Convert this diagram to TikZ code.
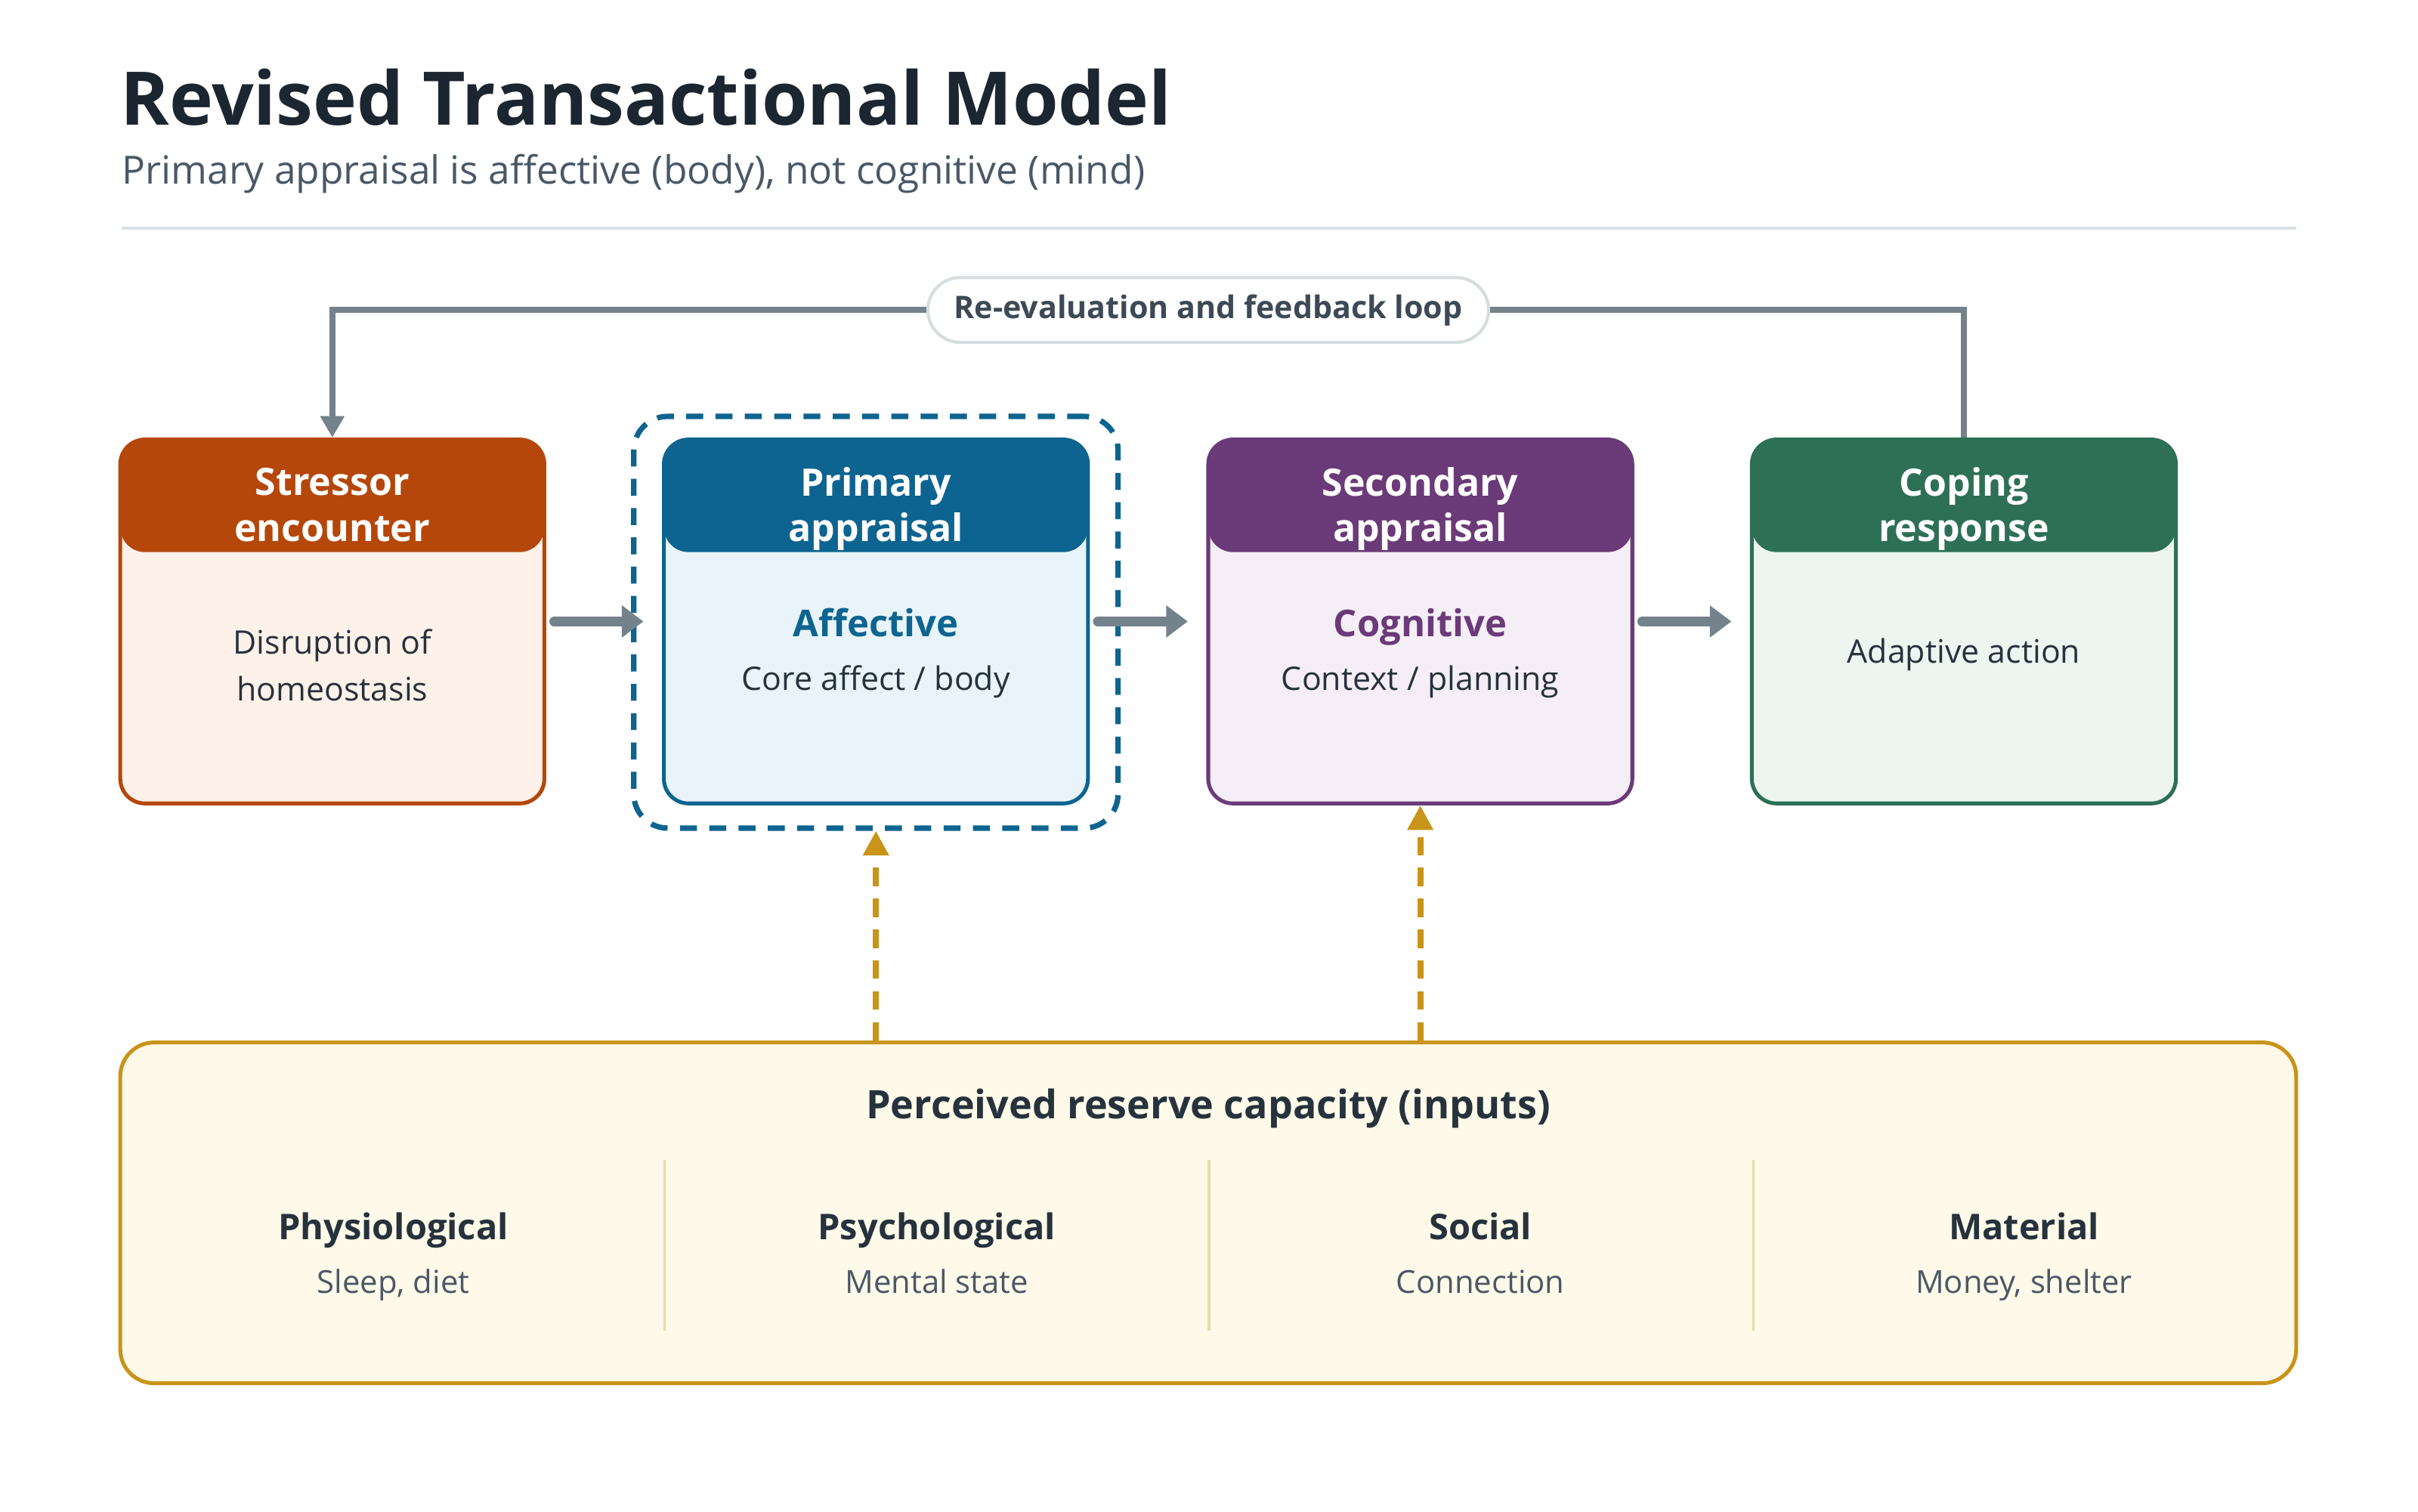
\documentclass[tikz,border=0pt]{standalone}
\usepackage{fontspec}
\setmainfont{Open Sans}
\usetikzlibrary{arrows.meta}

\definecolor{ink}{HTML}{1C2630}
\definecolor{subink}{HTML}{4A5866}
\definecolor{bodyink}{HTML}{26323C}
\definecolor{rulegray}{HTML}{D9E0E4}
\definecolor{loopgray}{HTML}{74828B}
\definecolor{pillgray}{HTML}{D5DDE1}
\definecolor{pillink}{HTML}{3D4A55}
\definecolor{stressD}{HTML}{B5470B}
\definecolor{stressL}{HTML}{FEF1E9}
\definecolor{primD}{HTML}{0E6490}
\definecolor{primL}{HTML}{E8F4FA}
\definecolor{secD}{HTML}{6B3A78}
\definecolor{secL}{HTML}{F5EEF6}
\definecolor{copeD}{HTML}{2E7055}
\definecolor{copeL}{HTML}{ECF5EF}
\definecolor{gold}{HTML}{C8941A}
\definecolor{goldL}{HTML}{FEF9E9}
\definecolor{goldrule}{HTML}{EAD9A8}

\tikzset{
  stage/.style={rectangle,rounded corners=16pt,draw=#1,line width=2.5pt,
    minimum width=275pt,minimum height=236pt,
    path picture={\fill[#1] (path picture bounding box.north west)
      rectangle ([yshift=-73pt]path picture bounding box.north east);}},
  hd/.style={align=center,text=white,text depth=.25em,font=\bfseries\fontsize{24.5}{29.5}\selectfont},
  txt/.style={align=center,text=bodyink,text depth=.25em,font=\fontsize{21}{30}\selectfont},
  one/.style={text height=.72em,text depth=0pt},
  key/.style={one,font=\bfseries\fontsize{24}{28}\selectfont},
  flow/.style={draw=loopgray,line width=6pt,line cap=round,
    -{Triangle[length=14pt,width=20pt]}},
  fback/.style={draw=loopgray,line width=4pt,-{Triangle[length=14pt,width=15pt]}},
  feed/.style={draw=gold,line width=4pt,dash pattern=on 12pt off 8pt,
    -{Triangle[length=16pt,width=16pt]}},
  pill/.style={rectangle,rounded corners=21pt,draw=pillgray,line width=2pt,fill=white,
    minimum height=42pt,inner xsep=17pt,text=pillink,font=\bfseries\fontsize{20.2}{24}\selectfont},
  col/.style={one,text=bodyink,font=\bfseries\fontsize{23}{26}\selectfont},
  colsub/.style={one,text=subink,font=\fontsize{20.5}{24}\selectfont}
}

\begin{document}
\begin{tikzpicture}[x=1pt,y=-1pt]
    \useasboundingbox[fill=white] (0,0) rectangle (1568,980);
    % heading
    \node [anchor=base west,inner sep=0,text=ink,font=\bfseries\fontsize{48}{56}\selectfont] (T) at (78,81) {Revised Transactional Model};
    \node [anchor=base west,inner sep=0,text=subink,font=\fontsize{25.2}{30}\selectfont] (Ts) at (79,119.5) {Primary appraisal is affective (body), not cognitive (mind)};
    \draw [rulegray,line width=2pt] (79,148) -- (1489,148);

    % stages
    \node [draw=primD,line width=3.5pt,dash pattern=on 11pt off 8pt,rounded corners=22pt,
           minimum width=314pt,minimum height=267pt] (F) at (568,403.5) {};
    \node [stage=stressD,fill=stressL] (S) at (215.5,403) {};
    \node [stage=primD,fill=primL]     (P) at (568,403) {};
    \node [stage=secD,fill=secL]       (Q) at (921,403) {};
    \node [stage=copeD,fill=copeL]     (C) at (1273.5,403) {};

    \node [hd] (Sh) at (215.5,328.5) {Stressor\\encounter};
    \node [hd] (Ph) at (568,328.5) {Primary\\appraisal};
    \node [hd] (Qh) at (921,328.5) {Secondary\\appraisal};
    \node [hd] (Ch) at (1273.5,328.5) {Coping\\response};

    \node [txt] (Sb) at (215.5,432.5) {Disruption of\\homeostasis};
    \node [key,text=primD] (Pk) at (568,409) {Affective};
    \node [txt,one] (Pb) at (568,444) {Core affect / body};
    \node [key,text=secD] (Qk) at (921,409) {Cognitive};
    \node [txt,one] (Qb) at (921,444) {Context / planning};
    \node [txt,one] (Cb) at (1273.5,426.5) {Adaptive action};

    \draw [flow] ([xshift=5pt]S.east) -- ([xshift=-12pt]P.west);
    \draw [flow] ([xshift=5pt]P.east) -- ([xshift=-12pt]Q.west);
    \draw [flow] ([xshift=5pt]Q.east) -- ([xshift=-12pt]C.west);

    % feedback loop
    \node [pill] (L) at (783.5,201) {Re-evaluation and feedback loop};
    \draw [fback,-] (C.north) |- (L.east);
    \draw [fback] (L.west) -| (S.north);

    % reserve capacity
    \node [rectangle,rounded corners=22pt,draw=gold,fill=goldL,line width=2.5pt,
           minimum width=1411pt,minimum height=221pt] (R) at (783.5,786.5) {};
    \node [one,text=bodyink,font=\bfseries\fontsize{25.5}{28}\selectfont] (Rt) at (783.5,722) {Perceived reserve capacity (inputs)};
    \draw [goldrule,line width=1.5pt] (431,752) -- (431,863);
    \draw [goldrule,line width=1.5pt] (784,752) -- (784,863);
    \draw [goldrule,line width=1.5pt] (1137,752) -- (1137,863);
    \node [col] (R1) at (255,800) {Physiological};
    \node [colsub] (R1s) at (255,835) {Sleep, diet};
    \node [col] (R2) at (607.5,800) {Psychological};
    \node [colsub] (R2s) at (607.5,835) {Mental state};
    \node [col] (R3) at (960,800) {Social};
    \node [colsub] (R3s) at (960,835) {Connection};
    \node [col] (R4) at (1312.5,800) {Material};
    \node [colsub] (R4s) at (1312.5,835) {Money, shelter};

    \draw [feed] (F.south |- R.north) -- (F.south);
    \draw [feed] (Q.south |- R.north) -- (Q.south);
\end{tikzpicture}
\end{document}
